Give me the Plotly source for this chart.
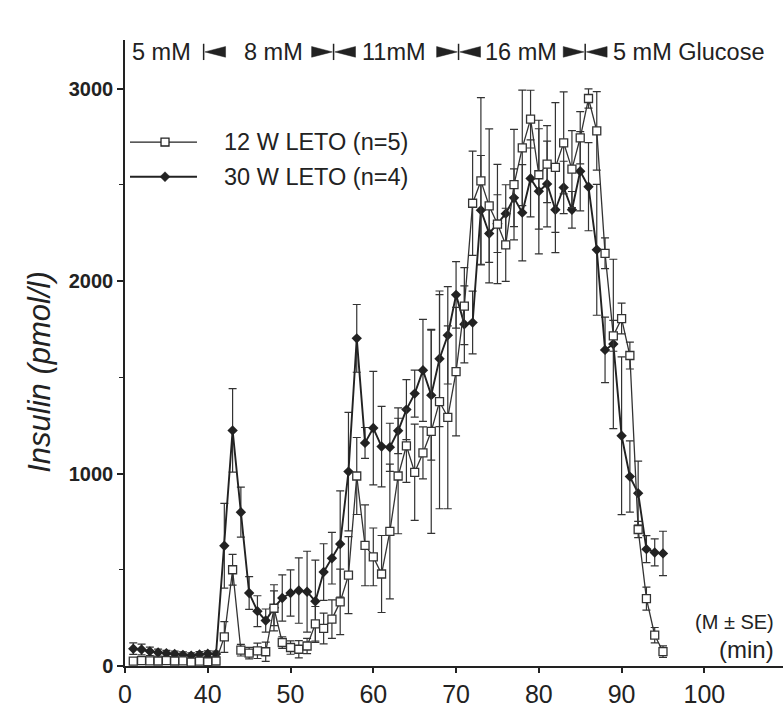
import plotly.graph_objects as go

# ---------------- data ----------------
time_min = list(range(31, 96))

leto12_mean = [25, 28, 27, 26, 28, 26, 27, 20, 25, 22, 26,
               151, 500, 82, 67, 79, 74, 300, 122, 96, 87, 104, 219, 195, 244, 333, 472,
               987, 627, 567, 478, 699, 987, 1144, 1006, 1107, 1219, 1373, 1292, 1529, 1870,
               2404, 2520, 2390, 2296, 2188, 2501, 2692, 2841, 2552, 2607, 2590, 2718, 2581,
               2744, 2948, 2780, 2144, 1715, 1805, 1613, 709, 350, 160, 75]
leto12_se = [8, 8, 8, 8, 8, 8, 8, 10, 8, 8, 8,
             80, 80, 30, 30, 40, 50, 90, 30, 35, 45, 40, 90, 80, 100, 170, 200,
             200, 210, 150, 200, 350, 300, 190, 250, 135, 530, 556, 475, 334, 200,
             271, 433, 400, 310, 190, 287, 300, 150, 283, 200, 337, 265, 200,
             136, 50, 204, 80, 80, 80, 70, 42, 60, 40, 30]

leto30_mean = [90, 86, 76, 70, 66, 62, 58, 54, 60, 64, 62,
               625, 1224, 799, 379, 285, 236, 302, 353, 379, 392, 386, 336, 488, 560, 634, 1010,
               1702, 1159, 1236, 1140, 1136, 1222, 1332, 1415, 1536, 1407, 1596, 1718, 1928, 1775,
               1784, 2368, 2247, 2298, 2350, 2432, 2355, 2533, 2466, 2504, 2370, 2486, 2370,
               2570, 2490, 2162, 1642, 1673, 1196, 984, 898, 607, 590, 585]
leto30_se = [30, 28, 22, 18, 15, 15, 15, 14, 15, 15, 15,
             220, 217, 130, 85, 80, 60, 120, 120, 120, 170, 210, 214, 147, 134, 276, 308,
             176, 80, 295, 209, 125, 119, 156, 122, 265, 338, 352, 253, 173, 200,
             163, 284, 150, 150, 150, 150, 250, 200, 325, 223, 223, 136, 95,
             206, 229, 340, 170, 440, 410, 185, 166, 70, 70, 115]

series_names = ["12 W LETO (n=5)", "30 W LETO (n=4)"]

x_tickvals = [30, 40, 50, 60, 70, 80, 90, 100]
x_ticktext = ["0", "40", "50", "60", "70", "80", "90", "100"]
y_tickvals = [0, 1000, 2000, 3000]
y_minor = [500, 1500, 2500]

# glucose-phase markers of the header, as placed in the picture (min)
phase_marks = [39.5, 55.2, 70.3, 85.6]
phase_labels = ["5 mM", "8 mM", "11mM", "16 mM", "5 mM Glucose"]
phase_label_x = [34.4, 48.0, 62.5, 77.8, 88.7]

INK = "#222222"
FONT = "Liberation Sans, Arial, Helvetica, sans-serif"

fig = go.Figure()

fig.add_trace(go.Scatter(
    x=time_min, y=leto30_mean, mode="lines+markers", name=series_names[1],
    line=dict(color=INK, width=1.9),
    marker=dict(symbol="diamond", size=8, color=INK),
    error_y=dict(type="data", array=leto30_se, color="#333333", thickness=1.2, width=4),
))
fig.add_trace(go.Scatter(
    x=time_min, y=leto12_mean, mode="lines+markers", name=series_names[0],
    line=dict(color="#333333", width=1.3),
    marker=dict(symbol="square", size=8, color="white", line=dict(color="#333333", width=1.3)),
    error_y=dict(type="data", array=leto12_se, color="#333333", thickness=1.2, width=4),
))

shapes = []
annotations = []

# ---- header: glucose phases ----
hy = 0.981      # paper y of header centre
hh = 0.0085     # half height of triangles
tw = 2.5        # triangle width in minutes
gap = 0.15
for i, b in enumerate(phase_marks):
    shapes.append(dict(type="line", xref="x", yref="paper", x0=b, x1=b, y0=hy - 0.013, y1=hy + 0.013,
                       line=dict(color=INK, width=1.5)))
    shapes.append(dict(type="path", xref="x", yref="paper",
                       path=f"M {b+gap},{hy} L {b+gap+tw},{hy+hh} L {b+gap+tw},{hy-hh} Z",
                       fillcolor=INK, line=dict(color=INK, width=0.5)))
    if i > 0:
        shapes.append(dict(type="path", xref="x", yref="paper",
                           path=f"M {b-gap},{hy} L {b-gap-tw},{hy+hh} L {b-gap-tw},{hy-hh} Z",
                           fillcolor=INK, line=dict(color=INK, width=0.5)))
for i, (lab, lx) in enumerate(zip(phase_labels, phase_label_x)):
    annotations.append(dict(x=lx, y=hy, xref="x", yref="paper", text=lab, showarrow=False,
                            xanchor="left" if i == len(phase_labels) - 1 else "center", yanchor="middle",
                            font=dict(family=FONT, size=23.5, color=INK)))

# ---- legend (drawn manually) ----
leg_rows = [0.837, 0.7816]
lx0, lx1, lxm = 0.0076, 0.1094, 0.0608
for row, name in zip(leg_rows, series_names):
    shapes.append(dict(type="line", xref="paper", yref="paper", x0=lx0, x1=lx1, y0=row, y1=row,
                       line=dict(color=INK, width=1.3 if name == series_names[0] else 1.9)))
    annotations.append(dict(x=0.1474, y=row, xref="paper", yref="paper", text=name, showarrow=False,
                            xanchor="left", yanchor="middle", font=dict(family=FONT, size=23.5, color=INK)))
sx, sy = 4 / 658, 4 / 632
shapes.append(dict(type="rect", xref="paper", yref="paper", x0=lxm - sx, x1=lxm + sx,
                   y0=leg_rows[0] - sy, y1=leg_rows[0] + sy, fillcolor="white", line=dict(color=INK, width=1.3)))
dx, dy = 5 / 658, 5 / 632
r = leg_rows[1]
shapes.append(dict(type="path", xref="paper", yref="paper",
                   path=f"M {lxm-dx},{r} L {lxm},{r+dy} L {lxm+dx},{r} L {lxm},{r-dy} Z",
                   fillcolor=INK, line=dict(color=INK, width=0.5)))

# ---- y-axis title ----
annotations.append(dict(x=(40 - 125) / 658, y=(672 - 375) / 632, xref="paper", yref="paper",
                        text="<i>Insulin (pmol/l)</i>", textangle=-90, showarrow=False,
                        xanchor="center", yanchor="middle",
                        font=dict(family=FONT, size=31, color=INK)))

# ---- notes bottom right ----
annotations.append(dict(x=0.99, y=(672 - 628) / 632, xref="paper", yref="paper", text="(M ± SE)",
                        showarrow=False, xanchor="right", yanchor="middle",
                        font=dict(family=FONT, size=20, color=INK)))
annotations.append(dict(x=0.99, y=(672 - 655) / 632, xref="paper", yref="paper", text="(min)",
                        showarrow=False, xanchor="right", yanchor="middle",
                        font=dict(family=FONT, size=24, color=INK)))

fig.update_layout(
    width=783, height=708,
    margin=dict(l=125, r=0, t=40, b=36),
    plot_bgcolor="white", paper_bgcolor="white",
    showlegend=False,
    shapes=shapes, annotations=annotations,
    xaxis=dict(range=[30, 109.5], tickvals=x_tickvals, ticktext=x_ticktext,
               ticks="outside", ticklen=5, tickwidth=1.5, tickcolor=INK,
               showline=True, linecolor=INK, linewidth=1.5, showgrid=False, zeroline=False,
               tickfont=dict(family=FONT, size=25, color=INK)),
    yaxis=dict(range=[0, 3252], tickvals=y_tickvals,
               ticks="outside", ticklen=6, tickwidth=1.5, tickcolor=INK,
               minor=dict(tickvals=y_minor, ticks="outside", ticklen=4, tickwidth=1.2, tickcolor=INK),
               showline=True, linecolor=INK, linewidth=1.5, showgrid=False, zeroline=False,
               tickfont=dict(family=FONT, size=20, color=INK, weight="bold")),
)

fig.write_html("out.html")
